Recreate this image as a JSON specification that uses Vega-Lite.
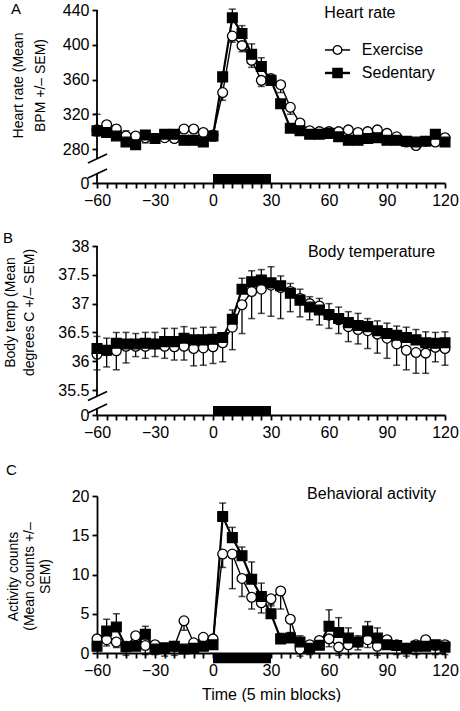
{
  "$schema": "https://vega.github.io/schema/vega-lite/v6.json",
  "padding": {"left": 3, "top": 2, "right": 8, "bottom": 0},
  "background": "white",
  "config": {
    "font": "Liberation Sans",
    "view": {"stroke": null},
    "axis": {"grid": false, "domainColor": "black", "domainWidth": 1.8, "tickColor": "black", "tickWidth": 1.8, "tickSize": 5, "tickCount": 100, "labelColor": "black", "labelFont": "Liberation Sans", "labelFontSize": 16, "labelOverlap": false, "titleFont": "Liberation Sans", "titleColor": "black", "titleFontWeight": "normal", "titleFontSize": 14},
    "title": {"font": "Liberation Sans", "fontWeight": "normal", "fontSize": 15, "color": "black", "anchor": "start", "frame": "bounds"},
    "text": {"font": "Liberation Sans", "color": "black"}
  },
  "datasets": {
    "hr": [
      {"t":-60,"g":"Exercise","v":302,"e":295},{"t":-55,"g":"Exercise","v":308,"e":302},{"t":-50,"g":"Exercise","v":303,"e":297},{"t":-45,"g":"Exercise","v":295,"e":289},{"t":-40,"g":"Exercise","v":295,"e":290},{"t":-35,"g":"Exercise","v":293,"e":287},{"t":-30,"g":"Exercise","v":292,"e":288},{"t":-25,"g":"Exercise","v":293,"e":289},{"t":-20,"g":"Exercise","v":292,"e":288},{"t":-15,"g":"Exercise","v":303,"e":299},{"t":-10,"g":"Exercise","v":303,"e":298},{"t":-5,"g":"Exercise","v":299,"e":294},{"t":0,"g":"Exercise","v":296,"e":289},{"t":5,"g":"Exercise","v":345,"e":336},{"t":10,"g":"Exercise","v":410,"e":403},{"t":15,"g":"Exercise","v":399,"e":392},{"t":20,"g":"Exercise","v":382,"e":374},{"t":25,"g":"Exercise","v":359,"e":352},{"t":30,"g":"Exercise","v":361,"e":356},{"t":35,"g":"Exercise","v":354,"e":345},{"t":40,"g":"Exercise","v":328,"e":320},{"t":45,"g":"Exercise","v":310,"e":306},{"t":50,"g":"Exercise","v":301,"e":298},{"t":55,"g":"Exercise","v":300,"e":297},{"t":60,"g":"Exercise","v":300,"e":297},{"t":65,"g":"Exercise","v":300,"e":297},{"t":70,"g":"Exercise","v":302,"e":299},{"t":75,"g":"Exercise","v":299,"e":296},{"t":80,"g":"Exercise","v":300,"e":297},{"t":85,"g":"Exercise","v":302,"e":298},{"t":90,"g":"Exercise","v":298,"e":295},{"t":95,"g":"Exercise","v":294,"e":291},{"t":100,"g":"Exercise","v":288,"e":284},{"t":105,"g":"Exercise","v":284,"e":280},{"t":110,"g":"Exercise","v":289,"e":286},{"t":115,"g":"Exercise","v":288,"e":284},{"t":120,"g":"Exercise","v":293,"e":290},
      {"t":-60,"g":"Sedentary","v":301,"e":320},{"t":-55,"g":"Sedentary","v":299,"e":304},{"t":-50,"g":"Sedentary","v":295,"e":307},{"t":-45,"g":"Sedentary","v":288,"e":301},{"t":-40,"g":"Sedentary","v":285,"e":290},{"t":-35,"g":"Sedentary","v":296,"e":301},{"t":-30,"g":"Sedentary","v":292,"e":296},{"t":-25,"g":"Sedentary","v":297,"e":301},{"t":-20,"g":"Sedentary","v":297,"e":302},{"t":-15,"g":"Sedentary","v":290,"e":294},{"t":-10,"g":"Sedentary","v":290,"e":294},{"t":-5,"g":"Sedentary","v":288,"e":293},{"t":0,"g":"Sedentary","v":295,"e":300},{"t":5,"g":"Sedentary","v":363,"e":368},{"t":10,"g":"Sedentary","v":431,"e":441},{"t":15,"g":"Sedentary","v":413,"e":422},{"t":20,"g":"Sedentary","v":389,"e":401},{"t":25,"g":"Sedentary","v":375,"e":385},{"t":30,"g":"Sedentary","v":359,"e":364},{"t":35,"g":"Sedentary","v":332,"e":336},{"t":40,"g":"Sedentary","v":304,"e":307},{"t":45,"g":"Sedentary","v":301,"e":304},{"t":50,"g":"Sedentary","v":297,"e":300},{"t":55,"g":"Sedentary","v":297,"e":300},{"t":60,"g":"Sedentary","v":298,"e":301},{"t":65,"g":"Sedentary","v":294,"e":297},{"t":70,"g":"Sedentary","v":290,"e":293},{"t":75,"g":"Sedentary","v":290,"e":293},{"t":80,"g":"Sedentary","v":292,"e":295},{"t":85,"g":"Sedentary","v":293,"e":297},{"t":90,"g":"Sedentary","v":290,"e":293},{"t":95,"g":"Sedentary","v":290,"e":293},{"t":100,"g":"Sedentary","v":289,"e":292},{"t":105,"g":"Sedentary","v":288,"e":291},{"t":110,"g":"Sedentary","v":289,"e":292},{"t":115,"g":"Sedentary","v":297,"e":300},{"t":120,"g":"Sedentary","v":288,"e":291}
    ],
    "temp": [
      {"t":-60,"g":"Exercise","v":36.12,"e":35.85},{"t":-55,"g":"Exercise","v":36.18,"e":35.9},{"t":-50,"g":"Exercise","v":36.18,"e":35.85},{"t":-45,"g":"Exercise","v":36.26,"e":35.97},{"t":-40,"g":"Exercise","v":36.26,"e":36.08},{"t":-35,"g":"Exercise","v":36.26,"e":36.05},{"t":-30,"g":"Exercise","v":36.3,"e":36.08},{"t":-25,"g":"Exercise","v":36.26,"e":36.05},{"t":-20,"g":"Exercise","v":36.25,"e":36.02},{"t":-15,"g":"Exercise","v":36.26,"e":36.02},{"t":-10,"g":"Exercise","v":36.22,"e":35.92},{"t":-5,"g":"Exercise","v":36.23,"e":35.93},{"t":0,"g":"Exercise","v":36.25,"e":35.96},{"t":5,"g":"Exercise","v":36.32,"e":35.99},{"t":10,"g":"Exercise","v":36.59,"e":36.2},{"t":15,"g":"Exercise","v":36.98,"e":36.48},{"t":20,"g":"Exercise","v":37.21,"e":36.74},{"t":25,"g":"Exercise","v":37.25,"e":36.83},{"t":30,"g":"Exercise","v":37.32,"e":36.78},{"t":35,"g":"Exercise","v":37.28,"e":36.74},{"t":40,"g":"Exercise","v":37.21,"e":36.86},{"t":45,"g":"Exercise","v":37.09,"e":36.77},{"t":50,"g":"Exercise","v":37.0,"e":36.72},{"t":55,"g":"Exercise","v":36.96,"e":36.63},{"t":60,"g":"Exercise","v":36.8,"e":36.57},{"t":65,"g":"Exercise","v":36.72,"e":36.48},{"t":70,"g":"Exercise","v":36.6,"e":36.34},{"t":75,"g":"Exercise","v":36.55,"e":36.3},{"t":80,"g":"Exercise","v":36.53,"e":36.22},{"t":85,"g":"Exercise","v":36.47,"e":36.14},{"t":90,"g":"Exercise","v":36.4,"e":36.05},{"t":95,"g":"Exercise","v":36.3,"e":35.93},{"t":100,"g":"Exercise","v":36.19,"e":35.85},{"t":105,"g":"Exercise","v":36.15,"e":35.79},{"t":110,"g":"Exercise","v":36.14,"e":35.79},{"t":115,"g":"Exercise","v":36.24,"e":35.99},{"t":120,"g":"Exercise","v":36.22,"e":35.93},
      {"t":-60,"g":"Sedentary","v":36.22,"e":36.43},{"t":-55,"g":"Sedentary","v":36.19,"e":36.4},{"t":-50,"g":"Sedentary","v":36.31,"e":36.5},{"t":-45,"g":"Sedentary","v":36.3,"e":36.5},{"t":-40,"g":"Sedentary","v":36.3,"e":36.48},{"t":-35,"g":"Sedentary","v":36.31,"e":36.5},{"t":-30,"g":"Sedentary","v":36.3,"e":36.5},{"t":-25,"g":"Sedentary","v":36.34,"e":36.57},{"t":-20,"g":"Sedentary","v":36.34,"e":36.57},{"t":-15,"g":"Sedentary","v":36.4,"e":36.6},{"t":-10,"g":"Sedentary","v":36.37,"e":36.57},{"t":-5,"g":"Sedentary","v":36.37,"e":36.59},{"t":0,"g":"Sedentary","v":36.38,"e":36.59},{"t":5,"g":"Sedentary","v":36.41,"e":36.47},{"t":10,"g":"Sedentary","v":36.73,"e":36.89},{"t":15,"g":"Sedentary","v":37.25,"e":37.44},{"t":20,"g":"Sedentary","v":37.38,"e":37.57},{"t":25,"g":"Sedentary","v":37.41,"e":37.59},{"t":30,"g":"Sedentary","v":37.36,"e":37.64},{"t":35,"g":"Sedentary","v":37.31,"e":37.48},{"t":40,"g":"Sedentary","v":37.18,"e":37.35},{"t":45,"g":"Sedentary","v":37.06,"e":37.25},{"t":50,"g":"Sedentary","v":36.94,"e":37.12},{"t":55,"g":"Sedentary","v":36.89,"e":37.09},{"t":60,"g":"Sedentary","v":36.81,"e":37.0},{"t":65,"g":"Sedentary","v":36.74,"e":36.94},{"t":70,"g":"Sedentary","v":36.67,"e":36.86},{"t":75,"g":"Sedentary","v":36.62,"e":36.83},{"t":80,"g":"Sedentary","v":36.6,"e":36.74},{"t":85,"g":"Sedentary","v":36.53,"e":36.7},{"t":90,"g":"Sedentary","v":36.48,"e":36.66},{"t":95,"g":"Sedentary","v":36.45,"e":36.61},{"t":100,"g":"Sedentary","v":36.41,"e":36.59},{"t":105,"g":"Sedentary","v":36.37,"e":36.55},{"t":110,"g":"Sedentary","v":36.32,"e":36.51},{"t":115,"g":"Sedentary","v":36.31,"e":36.5},{"t":120,"g":"Sedentary","v":36.32,"e":36.51}
    ],
    "act": [
      {"t":-60,"g":"Exercise","v":1.8,"e":1.0},{"t":-55,"g":"Exercise","v":1.7,"e":0.9},{"t":-50,"g":"Exercise","v":1.4,"e":0.7},{"t":-45,"g":"Exercise","v":0.85,"e":-0.3},{"t":-40,"g":"Exercise","v":2.2,"e":1.4},{"t":-35,"g":"Exercise","v":0.95,"e":-0.2},{"t":-30,"g":"Exercise","v":1.05,"e":-0.2},{"t":-25,"g":"Exercise","v":0.6,"e":-0.4},{"t":-20,"g":"Exercise","v":0.85,"e":-0.3},{"t":-15,"g":"Exercise","v":4.1,"e":2.9},{"t":-10,"g":"Exercise","v":1.3,"e":0.3},{"t":-5,"g":"Exercise","v":2.0,"e":1.0},{"t":0,"g":"Exercise","v":1.8,"e":0.8},{"t":5,"g":"Exercise","v":12.6,"e":10.9},{"t":10,"g":"Exercise","v":12.6,"e":8.2},{"t":15,"g":"Exercise","v":9.5,"e":7.2},{"t":20,"g":"Exercise","v":7.1,"e":5.6},{"t":25,"g":"Exercise","v":6.4,"e":5.1},{"t":30,"g":"Exercise","v":6.9,"e":6.0},{"t":35,"g":"Exercise","v":7.9,"e":5.6},{"t":40,"g":"Exercise","v":4.3,"e":2.6},{"t":45,"g":"Exercise","v":0.5,"e":-0.4},{"t":50,"g":"Exercise","v":1.05,"e":-0.2},{"t":55,"g":"Exercise","v":1.6,"e":0.6},{"t":60,"g":"Exercise","v":1.8,"e":0.8},{"t":65,"g":"Exercise","v":0.75,"e":-0.3},{"t":70,"g":"Exercise","v":1.05,"e":-0.2},{"t":75,"g":"Exercise","v":1.4,"e":0.4},{"t":80,"g":"Exercise","v":1.7,"e":0.7},{"t":85,"g":"Exercise","v":0.85,"e":-0.3},{"t":90,"g":"Exercise","v":1.7,"e":0.7},{"t":95,"g":"Exercise","v":1.05,"e":-0.2},{"t":100,"g":"Exercise","v":0.6,"e":-0.4},{"t":105,"g":"Exercise","v":1.05,"e":-0.2},{"t":110,"g":"Exercise","v":1.7,"e":0.7},{"t":115,"g":"Exercise","v":0.95,"e":-0.2},{"t":120,"g":"Exercise","v":1.05,"e":-0.2},
      {"t":-60,"g":"Sedentary","v":0.85,"e":1.3},{"t":-55,"g":"Sedentary","v":2.8,"e":4.3},{"t":-50,"g":"Sedentary","v":3.3,"e":5.0},{"t":-45,"g":"Sedentary","v":0.8,"e":1.2},{"t":-40,"g":"Sedentary","v":0.85,"e":1.3},{"t":-35,"g":"Sedentary","v":2.4,"e":3.4},{"t":-30,"g":"Sedentary","v":0.5,"e":0.9},{"t":-25,"g":"Sedentary","v":0.65,"e":1.1},{"t":-20,"g":"Sedentary","v":0.85,"e":1.3},{"t":-15,"g":"Sedentary","v":0.5,"e":0.9},{"t":-10,"g":"Sedentary","v":0.6,"e":1.0},{"t":-5,"g":"Sedentary","v":0.85,"e":1.3},{"t":0,"g":"Sedentary","v":1.05,"e":1.5},{"t":5,"g":"Sedentary","v":17.4,"e":19.1},{"t":10,"g":"Sedentary","v":14.7,"e":16.0},{"t":15,"g":"Sedentary","v":12.4,"e":13.5},{"t":20,"g":"Sedentary","v":9.4,"e":11.6},{"t":25,"g":"Sedentary","v":7.2,"e":8.9},{"t":30,"g":"Sedentary","v":5.0,"e":6.2},{"t":35,"g":"Sedentary","v":1.8,"e":2.5},{"t":40,"g":"Sedentary","v":1.9,"e":2.6},{"t":45,"g":"Sedentary","v":1.4,"e":2.2},{"t":50,"g":"Sedentary","v":0.6,"e":1.0},{"t":55,"g":"Sedentary","v":1.0,"e":1.4},{"t":60,"g":"Sedentary","v":3.4,"e":5.5},{"t":65,"g":"Sedentary","v":2.6,"e":4.5},{"t":70,"g":"Sedentary","v":1.9,"e":3.2},{"t":75,"g":"Sedentary","v":1.4,"e":2.2},{"t":80,"g":"Sedentary","v":2.8,"e":4.0},{"t":85,"g":"Sedentary","v":1.9,"e":3.2},{"t":90,"g":"Sedentary","v":1.05,"e":1.5},{"t":95,"g":"Sedentary","v":0.95,"e":1.4},{"t":100,"g":"Sedentary","v":0.6,"e":1.0},{"t":105,"g":"Sedentary","v":0.85,"e":1.3},{"t":110,"g":"Sedentary","v":0.85,"e":1.3},{"t":115,"g":"Sedentary","v":1.05,"e":1.5},{"t":120,"g":"Sedentary","v":0.75,"e":1.2}
    ]
  },
  "resolve": {"scale": {"x": "independent", "y": "independent", "fill": "independent", "shape": "independent", "strokeWidth": "independent"}},
  "spacing": 23,
  "vconcat": [
    {
      "width": 348, "height": 173,
      "title": {"text": "A", "offset": -15},
      "data": {"name": "hr"},
      "layer": [
        {"mark": {"type": "line", "color": "black"},
         "encoding": {
           "x": {"field": "t", "type": "quantitative", "scale": {"domain": [-60, 120], "nice": false, "zero": false},
                 "axis": {"values": [-60,-55,-50,-45,-40,-35,-30,-25,-20,-15,-10,-5,0,5,10,15,20,25,30,35,40,45,50,55,60,65,70,75,80,85,90,95,100,105,110,115,120], "tickCount": 100, "labelExpr": "datum.value % 30 === 0 ? datum.label : ''", "labelOverlap": false, "labelFlush": false, "labelPadding": 4, "title": null}},
           "y": {"field": "v", "type": "quantitative", "scale": {"domain": [0, 280, 440], "range": [173, 139, 0], "nice": false, "zero": false},
                 "axis": {"values": [0, 280, 320, 360, 400, 440], "labelExpr": "toString(datum.value)", "tickCount": 100, "labelOverlap": false, "domain": false, "labelPadding": 3, "title": ["Heart rate (Mean", "BPM +/\u2013 SEM)"], "titleLineHeight": 22, "titleAngle": 270, "titleBaseline": "top", "titleAlign": "center", "titleX": -86, "titleY": 75}},
           "detail": {"field": "g"},
           "strokeWidth": {"field": "g", "type": "nominal", "scale": {"domain": ["Exercise", "Sedentary"], "range": [1.4, 2.2]}, "legend": null}
         }},
        {"mark": {"type": "rule", "color": "black", "strokeWidth": 1.3},
         "encoding": {"x": {"field": "t", "type": "quantitative"}, "y": {"field": "v", "type": "quantitative"}, "y2": {"field": "e"}}},
        {"mark": {"type": "tick", "orient": "horizontal", "color": "black", "size": 7, "thickness": 1.5},
         "encoding": {"x": {"field": "t", "type": "quantitative"}, "y": {"field": "e", "type": "quantitative"}}},
        {"mark": {"type": "point", "filled": true, "stroke": "black", "strokeWidth": 1.3, "size": 95, "opacity": 1},
         "encoding": {
           "x": {"field": "t", "type": "quantitative"}, "y": {"field": "v", "type": "quantitative"},
           "fill": {"field": "g", "type": "nominal", "scale": {"domain": ["Exercise", "Sedentary"], "range": ["white", "black"]}, "legend": null},
           "shape": {"field": "g", "type": "nominal", "scale": {"domain": ["Exercise", "Sedentary"], "range": ["circle", "square"]}, "legend": null}
         }},
        {"data": {"values": [{}]}, "mark": {"type": "rect", "color": "black"},
         "encoding": {"x": {"datum": 0, "type": "quantitative"}, "x2": {"datum": 30}, "y": {"datum": 0, "type": "quantitative"}, "y2": {"datum": 74}}},
        {"data": {"values": [{}]}, "mark": {"type": "rule", "color": "black", "strokeWidth": 1.8},
         "encoding": {"x": {"datum": -60, "type": "quantitative"}, "y": {"datum": 202, "type": "quantitative"}, "y2": {"datum": 440}}},
        {"data": {"values": [{}]}, "mark": {"type": "rule", "color": "black", "strokeWidth": 1.8},
         "encoding": {"x": {"datum": -60, "type": "quantitative"}, "y": {"datum": 0, "type": "quantitative"}, "y2": {"datum": 78}}},
        {"data": {"values": [{}]}, "mark": {"type": "rule", "color": "black", "strokeWidth": 1.6},
         "encoding": {"x": {"datum": -64.7, "type": "quantitative"}, "x2": {"datum": -54.8}, "y": {"datum": 165, "type": "quantitative"}, "y2": {"datum": 239}}},
        {"data": {"values": [{}]}, "mark": {"type": "rule", "color": "black", "strokeWidth": 1.6},
         "encoding": {"x": {"datum": -64.7, "type": "quantitative"}, "x2": {"datum": -54.8}, "y": {"datum": 41, "type": "quantitative"}, "y2": {"datum": 115}}},
        {"data": {"values": [{}]}, "mark": {"type": "text", "text": "Heart rate", "fontSize": 16, "align": "center", "baseline": "middle"},
         "encoding": {"x": {"datum": 76, "type": "quantitative"}, "y": {"datum": 437, "type": "quantitative"}}},
        {"data": {"values": [{}]}, "mark": {"type": "rule", "color": "black", "strokeWidth": 1.5},
         "encoding": {"x": {"datum": 57.9, "type": "quantitative"}, "x2": {"datum": 70.9}, "y": {"datum": 394, "type": "quantitative"}}},
        {"data": {"values": [{}]}, "mark": {"type": "point", "shape": "circle", "filled": true, "fill": "white", "stroke": "black", "strokeWidth": 1.3, "size": 75, "opacity": 1},
         "encoding": {"x": {"datum": 64.4, "type": "quantitative"}, "y": {"datum": 394, "type": "quantitative"}}},
        {"data": {"values": [{}]}, "mark": {"type": "text", "text": "Exercise", "fontSize": 16, "align": "left", "baseline": "middle"},
         "encoding": {"x": {"datum": 77, "type": "quantitative"}, "y": {"datum": 394, "type": "quantitative"}}},
        {"data": {"values": [{}]}, "mark": {"type": "rule", "color": "black", "strokeWidth": 2.4},
         "encoding": {"x": {"datum": 57.9, "type": "quantitative"}, "x2": {"datum": 70.9}, "y": {"datum": 367.5, "type": "quantitative"}}},
        {"data": {"values": [{}]}, "mark": {"type": "point", "shape": "square", "filled": true, "fill": "black", "stroke": "black", "strokeWidth": 1.3, "size": 85, "opacity": 1},
         "encoding": {"x": {"datum": 64.4, "type": "quantitative"}, "y": {"datum": 367.5, "type": "quantitative"}}},
        {"data": {"values": [{}]}, "mark": {"type": "text", "text": "Sedentary", "fontSize": 16, "align": "left", "baseline": "middle"},
         "encoding": {"x": {"datum": 77, "type": "quantitative"}, "y": {"datum": 367.5, "type": "quantitative"}}}
      ]
    },
    {
      "width": 348, "height": 169,
      "title": {"text": "B", "offset": -8},
      "data": {"name": "temp"},
      "layer": [
        {"mark": {"type": "line", "color": "black"},
         "encoding": {
           "x": {"field": "t", "type": "quantitative", "scale": {"domain": [-60, 120], "nice": false, "zero": false},
                 "axis": {"values": [-60,-55,-50,-45,-40,-35,-30,-25,-20,-15,-10,-5,0,5,10,15,20,25,30,35,40,45,50,55,60,65,70,75,80,85,90,95,100,105,110,115,120], "tickCount": 100, "labelExpr": "datum.value % 30 === 0 ? datum.label : ''", "labelOverlap": false, "labelFlush": false, "labelPadding": 4, "title": null}},
           "y": {"field": "v", "type": "quantitative", "scale": {"domain": [0, 35.5, 38], "range": [169, 144, 0], "nice": false, "zero": false},
                 "axis": {"values": [0, 35.5, 36, 36.5, 37, 37.5, 38], "labelExpr": "toString(datum.value)", "tickCount": 100, "labelOverlap": false, "domain": false, "labelPadding": 3, "title": ["Body temp (Mean", "degrees C +/\u2013 SEM)"], "titleLineHeight": 19, "titleAngle": 270, "titleBaseline": "top", "titleAlign": "center", "titleX": -94, "titleY": 66}},
           "detail": {"field": "g"},
           "strokeWidth": {"field": "g", "type": "nominal", "scale": {"domain": ["Exercise", "Sedentary"], "range": [1.4, 2.2]}, "legend": null}
         }},
        {"mark": {"type": "rule", "color": "black", "strokeWidth": 1.3},
         "encoding": {"x": {"field": "t", "type": "quantitative"}, "y": {"field": "v", "type": "quantitative"}, "y2": {"field": "e"}}},
        {"mark": {"type": "tick", "orient": "horizontal", "color": "black", "size": 7, "thickness": 1.5},
         "encoding": {"x": {"field": "t", "type": "quantitative"}, "y": {"field": "e", "type": "quantitative"}}},
        {"mark": {"type": "point", "filled": true, "stroke": "black", "strokeWidth": 1.3, "size": 95, "opacity": 1},
         "encoding": {
           "x": {"field": "t", "type": "quantitative"}, "y": {"field": "v", "type": "quantitative"},
           "fill": {"field": "g", "type": "nominal", "scale": {"domain": ["Exercise", "Sedentary"], "range": ["white", "black"]}, "legend": null},
           "shape": {"field": "g", "type": "nominal", "scale": {"domain": ["Exercise", "Sedentary"], "range": ["circle", "square"]}, "legend": null}
         }},
        {"data": {"values": [{}]}, "mark": {"type": "rect", "color": "black"},
         "encoding": {"x": {"datum": 0, "type": "quantitative"}, "x2": {"datum": 30}, "y": {"datum": 0, "type": "quantitative"}, "y2": {"datum": 12.8}}},
        {"data": {"values": [{}]}, "mark": {"type": "rule", "color": "black", "strokeWidth": 1.8},
         "encoding": {"x": {"datum": -60, "type": "quantitative"}, "y": {"datum": 27, "type": "quantitative"}, "y2": {"datum": 38}}},
        {"data": {"values": [{}]}, "mark": {"type": "rule", "color": "black", "strokeWidth": 1.8},
         "encoding": {"x": {"datum": -60, "type": "quantitative"}, "y": {"datum": 0, "type": "quantitative"}, "y2": {"datum": 9.2}}},
        {"data": {"values": [{}]}, "mark": {"type": "rule", "color": "black", "strokeWidth": 1.6},
         "encoding": {"x": {"datum": -64.7, "type": "quantitative"}, "x2": {"datum": -54.8}, "y": {"datum": 20.6, "type": "quantitative"}, "y2": {"datum": 33.4}}},
        {"data": {"values": [{}]}, "mark": {"type": "rule", "color": "black", "strokeWidth": 1.6},
         "encoding": {"x": {"datum": -64.7, "type": "quantitative"}, "x2": {"datum": -54.8}, "y": {"datum": 2.8, "type": "quantitative"}, "y2": {"datum": 15.6}}},
        {"data": {"values": [{}]}, "mark": {"type": "text", "text": "Body temperature", "fontSize": 16, "align": "center", "baseline": "middle"},
         "encoding": {"x": {"datum": 82, "type": "quantitative"}, "y": {"datum": 37.89, "type": "quantitative"}}}
      ]
    },
    {
      "width": 348, "height": 157,
      "title": {"text": "C", "offset": 8},
      "data": {"name": "act"},
      "layer": [
        {"mark": {"type": "line", "color": "black"},
         "encoding": {
           "x": {"field": "t", "type": "quantitative", "scale": {"domain": [-60, 120], "nice": false, "zero": false},
                 "axis": {"values": [-60,-55,-50,-45,-40,-35,-30,-25,-20,-15,-10,-5,0,5,10,15,20,25,30,35,40,45,50,55,60,65,70,75,80,85,90,95,100,105,110,115,120], "tickCount": 100, "labelExpr": "datum.value % 30 === 0 ? datum.label : ''", "labelOverlap": false, "labelFlush": false, "labelPadding": 4, "title": "Time (5 min blocks)", "titleFontSize": 16, "titlePadding": 8}},
           "y": {"field": "v", "type": "quantitative", "scale": {"domain": [0, 20], "nice": false, "zero": false},
                 "axis": {"values": [0, 5, 10, 15, 20], "labelExpr": "toString(datum.value)", "tickCount": 100, "labelOverlap": false, "labelPadding": 3, "title": ["Activity counts", "(Mean counts +/\u2013", "SEM)"], "titleLineHeight": 16, "titleAngle": 270, "titleBaseline": "top", "titleAlign": "center", "titleX": -91, "titleY": 80}},
           "detail": {"field": "g"},
           "strokeWidth": {"field": "g", "type": "nominal", "scale": {"domain": ["Exercise", "Sedentary"], "range": [1.4, 2.2]}, "legend": null}
         }},
        {"mark": {"type": "rule", "color": "black", "strokeWidth": 1.3},
         "encoding": {"x": {"field": "t", "type": "quantitative"}, "y": {"field": "v", "type": "quantitative"}, "y2": {"field": "e"}}},
        {"mark": {"type": "tick", "orient": "horizontal", "color": "black", "size": 7, "thickness": 1.5},
         "encoding": {"x": {"field": "t", "type": "quantitative"}, "y": {"field": "e", "type": "quantitative"}}},
        {"mark": {"type": "point", "filled": true, "stroke": "black", "strokeWidth": 1.3, "size": 95, "opacity": 1},
         "encoding": {
           "x": {"field": "t", "type": "quantitative"}, "y": {"field": "v", "type": "quantitative"},
           "fill": {"field": "g", "type": "nominal", "scale": {"domain": ["Exercise", "Sedentary"], "range": ["white", "black"]}, "legend": null},
           "shape": {"field": "g", "type": "nominal", "scale": {"domain": ["Exercise", "Sedentary"], "range": ["circle", "square"]}, "legend": null}
         }},
        {"data": {"values": [{}]}, "mark": {"type": "rect", "color": "black"},
         "encoding": {"x": {"datum": 0, "type": "quantitative"}, "x2": {"datum": 30}, "y": {"datum": 0, "type": "quantitative"}, "y2": {"datum": -1.3}}},
        {"data": {"values": [{}]}, "mark": {"type": "text", "text": "Behavioral activity", "fontSize": 16, "align": "center", "baseline": "middle"},
         "encoding": {"x": {"datum": 82, "type": "quantitative"}, "y": {"datum": 20.2, "type": "quantitative"}}}
      ]
    }
  ]
}
